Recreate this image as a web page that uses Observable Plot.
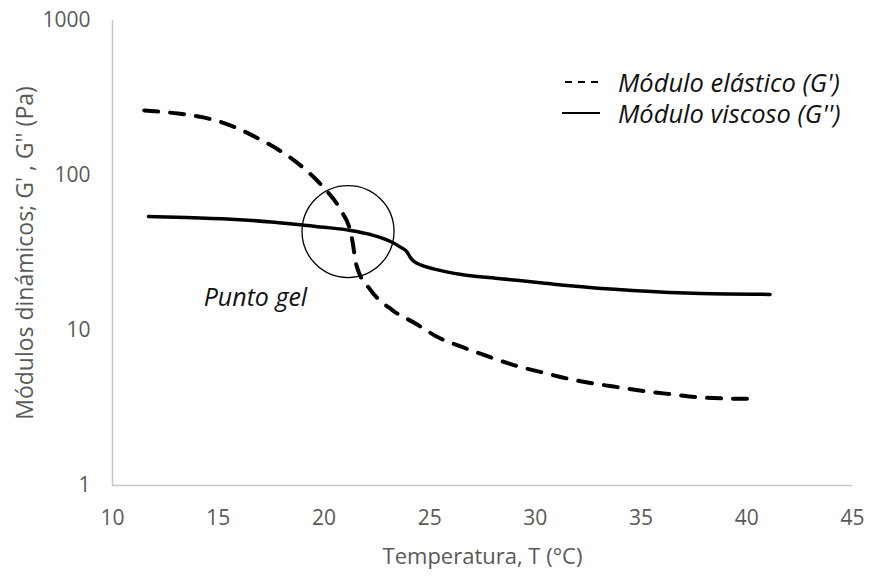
<!DOCTYPE html>
<html>
<head>
<meta charset="utf-8">
<script src="https://cdn.jsdelivr.net/npm/d3@7"></script>
<script src="https://cdn.jsdelivr.net/npm/@observablehq/plot@0.6"></script>
<style>
  body { margin: 0; background: #fff; }
  #chart { position: relative; width: 870px; height: 577px; font-family: "Open Sans", sans-serif; }
  .legend { position: absolute; left: 560px; top: 66px; font-style: italic; font-size: 25.5px; color: #111; }
  .legend .row { display: flex; align-items: center; height: 31px; white-space: nowrap; }
  .legend svg { width: 40px; height: 10px; margin-right: 18px; flex: none; }
</style>
</head>
<body>
<div id="chart"></div>
<script>
// Elastic modulus G' (Pa) against temperature (°C)
const elasticT = [11.5, 13.1, 14.3, 15.6, 16.8, 17.9, 19.0, 19.9, 20.75, 21.3, 21.55, 22.2, 23.25, 24.33, 25.42, 26.6, 27.9, 29.06, 30.34, 31.5, 32.75, 34.0, 35.3, 36.5, 37.8, 39.1, 40.5];
const elasticG = [263, 251, 237, 210, 176, 145, 113, 86, 61, 41, 26, 18.3, 13.5, 11.1, 9.0, 7.77, 6.7, 5.94, 5.36, 4.9, 4.55, 4.29, 4.04, 3.87, 3.7, 3.64, 3.62];

// Viscous modulus G'' (Pa) against temperature (°C)
const viscousT = [11.7, 13.5, 15.6, 17.5, 18.75, 20.0, 21.26, 22.2, 23.15, 23.62, 23.94, 24.1, 24.25, 24.57, 25.18, 26.5, 28.35, 30.0, 31.5, 34.6, 37.8, 41.1];
const viscousG = [54.4, 53.6, 52.2, 50.2, 48.3, 46.4, 44.2, 41.6, 37.5, 34.5, 32, 29.4, 28, 26.5, 25, 23, 21.6, 20.5, 19.5, 18.1, 17.3, 17.1];

// Gel point marker and its label
const gelT = [21.14];
const gelG = [43.5];
const gelLabel = ["Punto gel"];
const gelLabelT = [16.76];
const gelLabelG = [16.1];

// Axes
const xTicks = [10, 15, 20, 25, 30, 35, 40, 45];
const yTicks = [1, 10, 100, 1000];
const xTitle = "Temperatura, T (°C)";
const yTitle = "Módulos dinámicos; G' , G'' (Pa)";

// Legend entries
const seriesNames = ["Módulo elástico (G')", "Módulo viscoso (G'')"];

const elasticRows = elasticT.map((t, i) => ({T: t, G: elasticG[i]}));
const viscousRows = viscousT.map((t, i) => ({T: t, G: viscousG[i]}));
const gelRows = gelT.map((t, i) => ({T: t, G: gelG[i]}));
const gelLabelRows = gelLabel.map((s, i) => ({T: gelLabelT[i], G: gelLabelG[i], text: s}));

const axisGray = "#595959";
const lineGray = "#c6c6c6";

const plot = Plot.plot({
  width: 870,
  height: 577,
  marginLeft: 112,
  marginRight: 18,
  marginTop: 20,
  marginBottom: 92,
  style: {fontFamily: "'Open Sans', sans-serif", color: axisGray, background: "#fff"},
  x: {domain: [10, 45]},
  y: {type: "log", domain: [1, 1000]},
  marks: [
    Plot.ruleX([10], {stroke: lineGray, strokeWidth: 1.5}),
    Plot.ruleY([1], {stroke: lineGray, strokeWidth: 1.5}),
    Plot.axisX({ticks: xTicks, tickSize: 0, tickPadding: 25, label: null, tickFormat: d => String(d), fontSize: 21}),
    Plot.axisY({ticks: yTicks, tickSize: 0, tickPadding: 22, label: null, tickFormat: d => String(d), fontSize: 21}),
    Plot.text([xTitle], {text: d => d, frameAnchor: "bottom", dy: 78, fontSize: 22, fill: axisGray}),
    Plot.text([yTitle], {text: d => d, frameAnchor: "left", textAnchor: "middle", dx: -87, rotate: -90, fontSize: 23, fill: axisGray}),
    Plot.line(viscousRows, {x: "T", y: "G", stroke: "#000", strokeWidth: 3.5, curve: "monotone-x"}),
    Plot.line(elasticRows, {x: "T", y: "G", stroke: "#000", strokeWidth: 4, strokeDasharray: "14,12", curve: "monotone-x"}),
    Plot.dot(gelRows, {x: "T", y: "G", r: 46, stroke: "#000", strokeWidth: 1.3, fill: "none"}),
    Plot.text(gelLabelRows, {x: "T", y: "G", text: "text", fontStyle: "italic", fontSize: 25, fill: "#111"})
  ]
});

const chart = document.getElementById("chart");
chart.appendChild(plot);

// Legend drawn over the upper-right of the plot area
const legend = document.createElement("div");
legend.className = "legend";
const samples = [
  '<line x1="5" y1="5" x2="38" y2="5" stroke="#000" stroke-width="2" stroke-dasharray="7,6"/>',
  '<line x1="2" y1="5" x2="40" y2="5" stroke="#000" stroke-width="2"/>'
];
seriesNames.forEach((name, i) => {
  const row = document.createElement("div");
  row.className = "row";
  row.innerHTML = `<svg viewBox="0 0 40 10">${samples[i]}</svg><span></span>`;
  row.querySelector("span").textContent = name;
  legend.appendChild(row);
});
chart.appendChild(legend);
</script>
</body>
</html>
